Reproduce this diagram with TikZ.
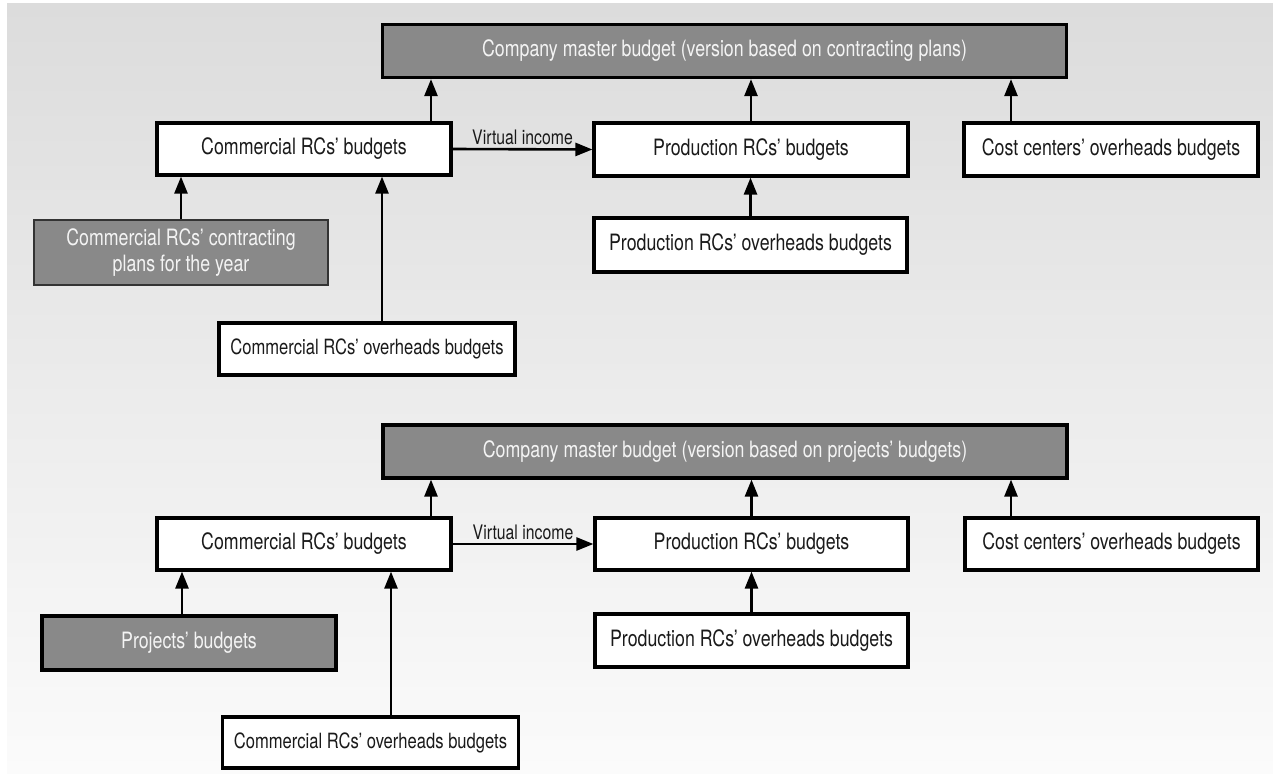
\documentclass[tikz,border=0pt]{standalone}
\usepackage{fontspec}
\setmainfont[FakeStretch=0.79]{TeX Gyre Heros}
\usetikzlibrary{arrows.meta,calc}
\definecolor{bgtop}{HTML}{DCDCDC}
\definecolor{bgbot}{HTML}{FBFBFB}
\definecolor{darkfill}{HTML}{898989}
\definecolor{txt}{HTML}{1A1A1A}
\definecolor{ltxt}{HTML}{F4F4F4}
\begin{document}
\begin{tikzpicture}[x=1pt,y=-1pt,
  wbox/.style={draw=black, line width=3.2pt, fill=white, text=txt, inner sep=0pt,
    font=\fontsize{22.5}{26}\selectfont, align=center},
  dbox/.style={wbox, fill=darkfill, text=ltxt},
  narrowtext/.style={font=\fontsize{21}{25}\selectfont},
  arr/.style={line width=2.6pt, draw=black, -{Triangle[length=17pt,width=13pt]}},
  lbl/.style={text=txt, font=\fontsize{20}{24}\selectfont, inner sep=2pt}
]
\useasboundingbox (0,0) rectangle (1273,773);
\shade[top color=bgtop,bottom color=bgbot] (7,4) rectangle (1273,773);

% ---------- upper diagram ----------
\node[dbox, minimum width=684pt, minimum height=53pt] (m1) at (724.5,51)
  {Company master budget (version based on contracting plans)};
\node[wbox, minimum width=294pt, minimum height=52pt] (c1) at (304,149) {Commercial RCs’ budgets};
\node[wbox, minimum width=314pt, minimum height=53pt] (p1) at (751,149.5) {Production RCs’ budgets};
\node[wbox, minimum width=294pt, minimum height=53pt] (k1) at (1111,149.5) {Cost centers’ overheads budgets};
\node[dbox, draw=black!80, line width=1.8pt, minimum width=294pt, minimum height=65pt] (pp1) at (181,252.5)
  {Commercial RCs’ contracting\\plans for the year};
\node[wbox, minimum width=313pt, minimum height=54pt] (po1) at (750.5,245) {Production RCs’ overheads budgets};
\node[wbox, narrowtext, minimum width=296pt, minimum height=52pt] (co1) at (367,349) {Commercial RCs’ overheads budgets};

\path ([xshift=127pt]c1.north) coordinate (c1a);
\path ([xshift=-100pt]k1.north) coordinate (k1a);
\path ([xshift=15pt]co1.north) coordinate (co1a);
\draw[arr] (c1a) -- (c1a |- m1.south);
\draw[arr] (p1.north) -- (p1.north |- m1.south);
\draw[arr] (k1a) -- (k1a |- m1.south);
\draw[arr] (c1.east) -- node[lbl, above=1pt] (v1) {Virtual income} (p1.west);
\draw[arr] (po1.north) -- (po1.north |- p1.south);
\draw[arr] (pp1.north) -- (pp1.north |- c1.south);
\draw[arr] (co1a) -- (co1a |- c1.south);

% ---------- lower diagram ----------
\node[dbox, minimum width=684pt, minimum height=53pt] (m2) at (725,451.5)
  {Company master budget (version based on projects’ budgets)};
\node[wbox, minimum width=294pt, minimum height=52pt] (c2) at (304,544) {Commercial RCs’ budgets};
\node[wbox, minimum width=313pt, minimum height=52pt] (p2) at (751.5,544) {Production RCs’ budgets};
\node[wbox, minimum width=293pt, minimum height=52pt] (k2) at (1111.5,544) {Cost centers’ overheads budgets};
\node[dbox, minimum width=294pt, minimum height=54pt] (pp2) at (189,643) {Projects’ budgets};
\node[wbox, minimum width=313pt, minimum height=53pt] (po2) at (751.5,640.5) {Production RCs’ overheads budgets};
\node[wbox, narrowtext, minimum width=296pt, minimum height=51pt] (co2) at (370.5,742.5) {Commercial RCs’ overheads budgets};

\path ([xshift=127pt]c2.north) coordinate (c2a);
\path ([xshift=-100.5pt]k2.north) coordinate (k2a);
\path ([xshift=20.5pt]co2.north) coordinate (co2a);
\path ([xshift=-7pt]pp2.north) coordinate (pp2a);
\draw[arr] (c2a) -- (c2a |- m2.south);
\draw[arr] (p2.north) -- (p2.north |- m2.south);
\draw[arr] (k2a) -- (k2a |- m2.south);
\draw[arr] (c2.east) -- node[lbl, above=1pt] (v2) {Virtual income} (p2.west);
\draw[arr] (po2.north) -- (po2.north |- p2.south);
\draw[arr] (pp2a) -- (pp2a |- c2.south);
\draw[arr] (co2a) -- (co2a |- c2.south);
\end{tikzpicture}
\end{document}
